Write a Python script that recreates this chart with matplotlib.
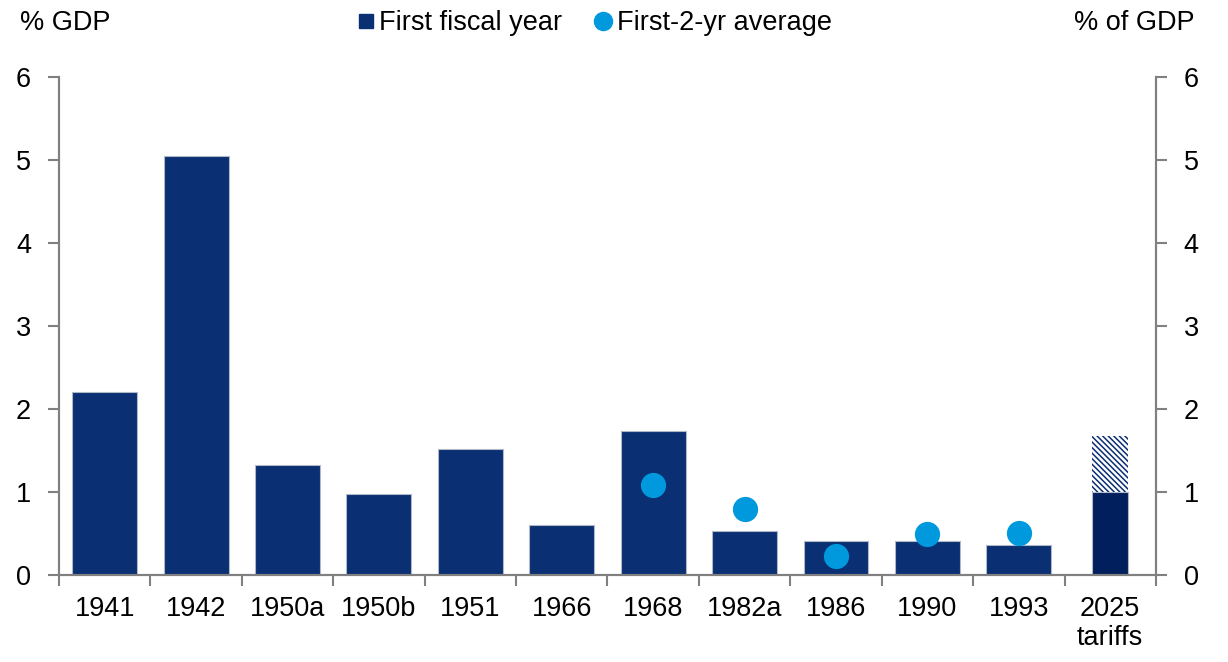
import matplotlib.pyplot as plt
import numpy as np
from matplotlib.lines import Line2D

plt.rcParams['font.family'] = ['Liberation Sans', 'DejaVu Sans']
plt.rcParams['hatch.linewidth'] = 1.1

categories = ['1941', '1942', '1950a', '1950b', '1951', '1966', '1968',
              '1982a', '1986', '1990', '1993', '2025\ntariffs']
first_year = [2.20, 5.05, 1.33, 0.97, 1.52, 0.60, 1.74, 0.53, 0.41, 0.41, 0.36, 1.00]
tariff_extra = 0.68  # hatched part on top of the 2025 bar
two_yr_avg = [None, None, None, None, None, None, 1.09, 0.80, 0.23, 0.50, 0.51, None]

navy = '#0a2f73'
dark_navy = '#001f5c'
light_blue = '#0099dd'
axis_gray = '#808080'
fs = 19.5

fig = plt.figure(figsize=(12.28, 6.62), dpi=100)
ax = fig.add_axes([0.048, 0.1314, 0.8933, 0.7523])

x = np.arange(len(categories))
widths = [0.71] * (len(categories) - 1) + [0.40]
colors = [navy] * (len(categories) - 1) + [dark_navy]
ax.bar(x, first_year, width=widths, color=colors, edgecolor='#b0b8c8', linewidth=0.8, zorder=2)
ax.bar(x[-1], tariff_extra, bottom=first_year[-1], width=widths[-1], color='white',
       edgecolor=navy, hatch='\\\\\\\\\\\\', linewidth=0, zorder=2)

dx = [i for i, v in enumerate(two_yr_avg) if v is not None]
dy = [v for v in two_yr_avg if v is not None]
ax.scatter(dx, dy, s=330, color=light_blue, zorder=3, linewidths=0)

ax.set_xlim(-0.5, len(categories) - 0.5)
ax.set_ylim(0, 6)
ax.set_yticks(range(0, 7))

# category boundary ticks
ax.set_xticks(np.arange(-0.5, len(categories), 1.0))
ax.set_xticklabels([])
ax.set_xticks(x, minor=True)
ax.set_xticklabels(categories, minor=True, fontsize=fs, linespacing=1.15)
ax.tick_params(axis='x', which='minor', length=0, pad=15)
ax.tick_params(axis='x', which='major', direction='out', length=8, color=axis_gray, width=1.5)

ax2 = ax.twinx()
ax2.set_ylim(0, 6)
ax2.set_yticks(range(0, 7))

for a in (ax, ax2):
    a.tick_params(axis='y', direction='out', length=8, color=axis_gray, width=1.5,
                  labelsize=fs, pad=12)
    for side in ('left', 'right', 'bottom'):
        a.spines[side].set_color(axis_gray)
        a.spines[side].set_linewidth(1.5)
    a.spines['top'].set_visible(False)

fig.text(0.016, 0.965, '% GDP', fontsize=fs, va='center', ha='left')
fig.text(0.973, 0.965, '% of GDP', fontsize=fs, va='center', ha='right')

handles = [Line2D([], [], marker='s', linestyle='none', color=navy, markersize=10),
           Line2D([], [], marker='o', linestyle='none', color=light_blue, markersize=13)]
fig.legend(handles, ['First fiscal year', 'First-2-yr average'], loc='center',
           bbox_to_anchor=(0.482, 0.965), ncol=2, frameon=False, fontsize=fs,
           handletextpad=0.0, columnspacing=1.0, handlelength=1.0)

fig.savefig('out.png', dpi=100)
